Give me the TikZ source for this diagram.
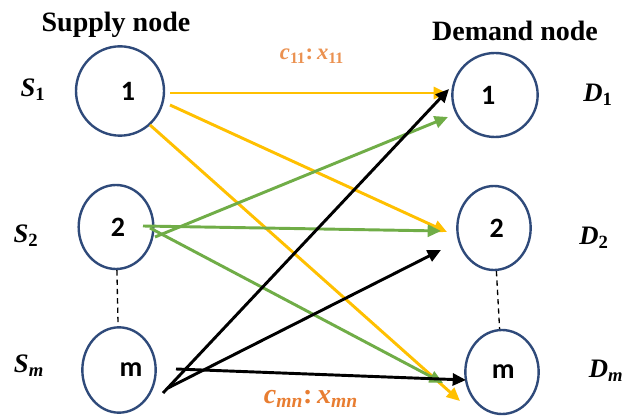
\documentclass[tikz,border=0pt]{standalone}
\usepackage{fontspec}
\setmainfont{Liberation Serif}
\newfontfamily\numfont{Carlito}
\usetikzlibrary{arrows.meta,shapes.geometric}
\definecolor{circblue}{RGB}{47,74,122}
\definecolor{gold}{RGB}{255,192,0}
\definecolor{lgreen}{RGB}{112,173,71}
\definecolor{orng}{RGB}{232,125,49}
\newcommand{\bisub}[2]{\textbf{\textit{#1}}\textsubscript{\textbf{#2}}}
\newcommand{\bisubit}[2]{\textbf{\textit{#1}}\textsubscript{\textbf{\textit{#2}}}}
\begin{document}
\begin{tikzpicture}[x=0.75pt,y=-0.75pt,
  circ/.style={draw=circblue, line width=1.8pt, ellipse, inner sep=0pt},
  num/.style={font=\numfont\bfseries\fontsize{21}{24}\selectfont},
  head/.style={font=\bfseries\fontsize{21}{24}\selectfont},
  lab/.style={font=\fontsize{20}{23}\selectfont},
  arr/.style={line width=2.2pt, -{Triangle[length=10pt,width=9pt]}},
  yarr/.style={arr, gold},
  garr/.style={arr, lgreen},
  barr/.style={arr, black},
  dots/.style={line width=1pt, dash pattern=on 4pt off 3pt}
]
\useasboundingbox (0,0) rectangle (624,416);
\fill[white] (0,0) rectangle (624,416);

% headers
\node[head] (hs) at (116,25) {Supply node};
\node[head] (hd) at (515,31) {Demand node};

% supply nodes
\node[circ, minimum width=66pt, minimum height=67pt, label={[num, xshift=6pt]center:1}] (s1) at (120,91) {};
\node[circ, minimum width=56pt, minimum height=63pt, label={[num, xshift=1.5pt]center:2}] (s2) at (116,227) {};
\node[circ, minimum width=55pt, minimum height=64pt, label={[num, xshift=9pt]center:m}] (sm) at (119,370) {};

% demand nodes
\node[circ, minimum width=64pt, minimum height=63pt, label={[num, xshift=-5pt]center:1}] (d1) at (495,95) {};
\node[circ, minimum width=55pt, minimum height=63pt, label={[num, xshift=2pt]center:2}] (d2) at (494,228) {};
\node[circ, minimum width=55pt, minimum height=63pt, label={[num, xshift=1pt]center:m}] (dm) at (502,372) {};

% dashed connections
\draw[dots] (s2) -- (sm);
\draw[dots] (d2) -- (dm);

% side labels
\node[lab] (ls1) at (33,90) {\bisub{S}{1}};
\node[lab] (ls2) at (26,236) {\bisub{S}{2}};
\node[lab] (lsm) at (29,366) {\bisubit{S}{m}};
\node[lab] (ld1) at (598,95) {\bisub{D}{1}};
\node[lab] (ld2) at (594,238) {\bisub{D}{2}};
\node[lab] (ldm) at (606,371) {\bisubit{D}{m}};

% arrow endpoints
\coordinate (y1a) at (170,93);  \coordinate (y1b) at (447,93);
\coordinate (y2a) at (170,105); \coordinate (y2b) at (447,232);
\coordinate (y3a) at (150,125); \coordinate (y3b) at (460,401);
\coordinate (g1a) at (155,237); \coordinate (g1b) at (448,117);
\coordinate (g2a) at (143,226); \coordinate (g2b) at (441,231);
\coordinate (g3a) at (150,228); \coordinate (g3b) at (443,383);
\coordinate (b1a) at (163,393); \coordinate (b1b) at (449,89);
\coordinate (b2a) at (168,388); \coordinate (b2b) at (441,250);
\coordinate (b3a) at (176,369); \coordinate (b3b) at (466,380);

% yellow arrows
\draw[yarr] (y1a) -- (y1b);
\draw[yarr] (y2a) -- (y2b);
\draw[yarr] (y3a) -- (y3b);
% green arrows
\draw[garr] (g1a) -- (g1b);
\draw[garr] (g2a) -- (g2b);
\draw[garr] (g3a) -- (g3b);
% black arrows
\draw[barr] (b1a) -- (b1b);
\draw[barr] (b2a) -- (b2b);
\draw[barr] (b3a) -- (b3b);

% edge labels
\node[text=orng!85, font=\fontsize{17}{19}\selectfont] (c11) at (312,56) {\bisub{c}{11}\textbf{:\,}\bisub{x}{11}};
\node[text=orng, font=\fontsize{21}{24}\selectfont] (cmn) at (311,399) {\bisubit{c}{mn}\textbf{:\,}\bisubit{x}{mn}};
\end{tikzpicture}
\end{document}
